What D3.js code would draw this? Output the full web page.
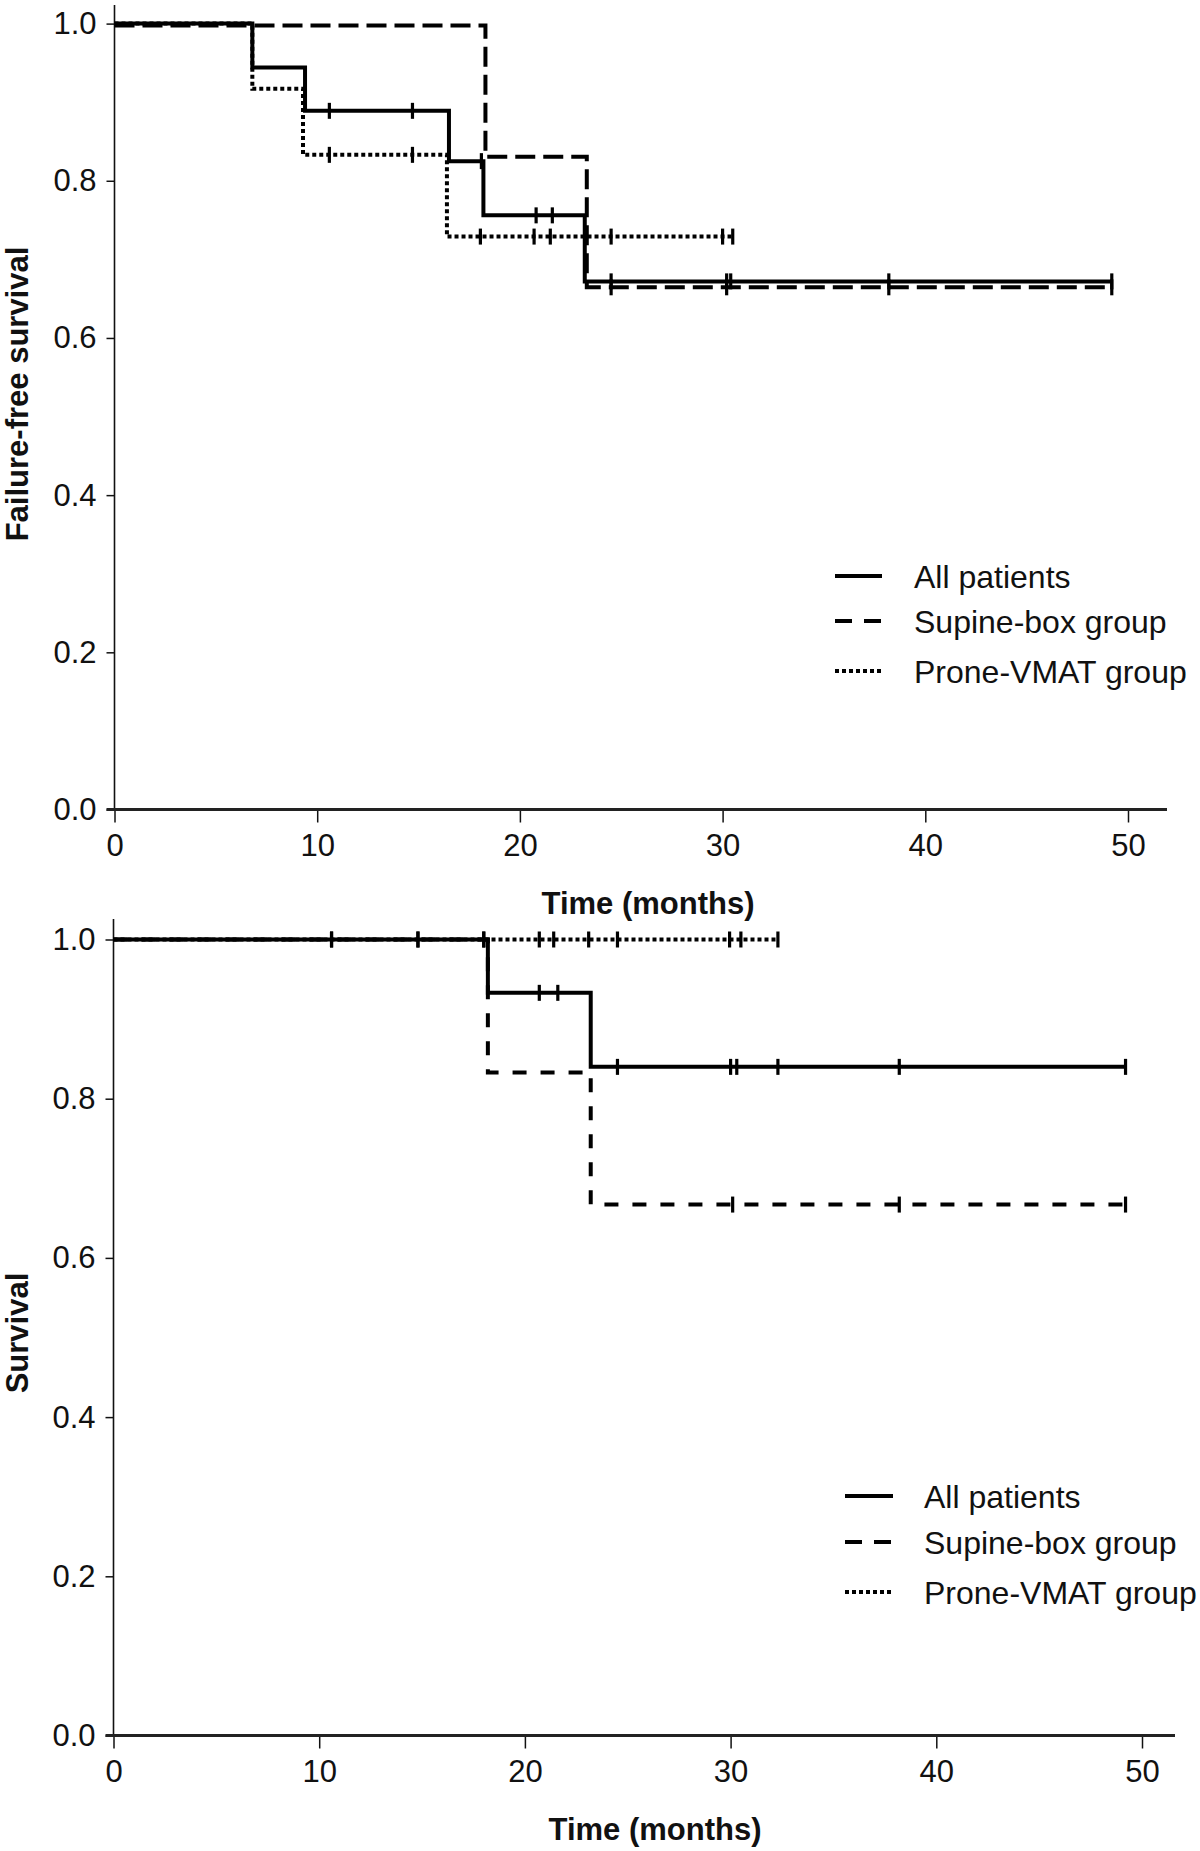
<!DOCTYPE html>
<html>
<head>
<meta charset="utf-8">
<script src="https://cdn.jsdelivr.net/npm/d3@7"></script>
<style>
  html, body { margin: 0; padding: 0; background: #fff; }
  svg { display: block; }
  text { font-family: "Liberation Sans", Arial, sans-serif; fill: #111; }
</style>
</head>
<body>
<svg id="chart" width="1200" height="1851"></svg>
<script>
// ---------- data ----------
const timeTicks = [0, 10, 20, 30, 40, 50];
const survTicks = [0, 0.2, 0.4, 0.6, 0.8, 1.0];
const legendLabels = ["All patients", "Supine-box group", "Prone-VMAT group"];

// Top panel: failure-free survival
const ffsAllTimes = [0, 6.8, 9.4, 16.5, 18.2, 23.2, 49.2];
const ffsAllSurv  = [1, 0.944, 0.889, 0.825, 0.756, 0.672, 0.672];
const ffsAllCens  = [10.6, 14.7, 18.1, 20.8, 21.6, 24.5, 30.2, 30.4, 38.2, 49.2];

const ffsSupTimes = [0, 18.3, 23.3, 49.2];
const ffsSupSurv  = [1, 0.833, 0.667, 0.667];
const ffsSupCens  = [24.5, 30.2, 38.2, 49.2];

const ffsProTimes = [0, 6.8, 9.3, 16.4, 30.5];
const ffsProSurv  = [1, 0.917, 0.833, 0.729, 0.729];
const ffsProCens  = [10.6, 14.7, 18.05, 20.7, 21.5, 24.5, 30.0, 30.5];

// Bottom panel: overall survival
const osAllTimes = [0, 18.2, 23.2, 49.2];
const osAllSurv  = [1, 0.933, 0.84, 0.84];
const osAllCens  = [10.6, 14.8, 18.0, 20.7, 21.6, 24.5, 30.0, 30.3, 32.3, 38.2, 49.2];

const osSupTimes = [0, 18.2, 23.2, 49.2];
const osSupSurv  = [1, 0.833, 0.667, 0.667];
const osSupCens  = [30.1, 38.2, 49.2];

const osProTimes = [0, 32.3];
const osProSurv  = [1, 1];
const osProCens  = [10.6, 14.8, 18.0, 20.7, 21.4, 23.1, 24.5, 29.95, 30.5, 32.3];

// ---------- drawing ----------
const svg = d3.select("#chart");
const FS = 31;
const LFS = 32;

function zip(t, s) { return t.map((d, i) => ({ t: d, s: s[i] })); }

function stepValue(times, surv, t) {
  let v = surv[0];
  for (let i = 0; i < times.length; i++) if (times[i] <= t) v = surv[i];
  return v;
}

function panel(cfg) {
  const g = svg.append("g");
  const x = d3.scaleLinear().domain([0, 50]).range(cfg.xr);
  const y = d3.scaleLinear().domain([0, 1]).range(cfg.yr);

  // y axis
  const ya = d3.axisLeft(y).tickValues(survTicks).tickFormat(d3.format(".1f"))
    .tickSize(8).tickSizeOuter(0).tickPadding(10);
  const yg = g.append("g").attr("transform", `translate(${cfg.xr[0]},0)`).call(ya);
  yg.select(".domain").remove();
  yg.selectAll("line").attr("stroke", "#111").attr("stroke-width", 1.5);
  yg.selectAll("text").style("font-size", FS + "px").attr("fill", "#111");
  g.append("line").attr("x1", cfg.xr[0]).attr("x2", cfg.xr[0])
    .attr("y1", cfg.yTop).attr("y2", cfg.yr[0]).attr("stroke", "#111").attr("stroke-width", 1.6);

  // x axis
  const xa = d3.axisBottom(x).tickValues(timeTicks).tickFormat(d3.format("d"))
    .tickSize(13).tickSizeOuter(0).tickPadding(11);
  const xg = g.append("g").attr("transform", `translate(0,${cfg.yr[0]})`).call(xa);
  xg.select(".domain").remove();
  xg.selectAll("line").attr("stroke", "#111").attr("stroke-width", 1.5);
  xg.selectAll("text").style("font-size", FS + "px").attr("fill", "#111");
  g.append("line").attr("x1", cfg.xr[0] - 8).attr("x2", cfg.xEnd)
    .attr("y1", cfg.yr[0]).attr("y2", cfg.yr[0]).attr("stroke", "#222").attr("stroke-width", 2.8);

  // titles
  g.append("text").attr("x", cfg.xTitle[0]).attr("y", cfg.xTitle[1])
    .attr("text-anchor", "middle").style("font-size", FS + "px").style("font-weight", "bold")
    .text("Time (months)");
  g.append("text").attr("transform", `translate(${cfg.yTitle[0]},${cfg.yTitle[1]}) rotate(-90)`)
    .attr("text-anchor", "middle").style("font-size", FS + "px").style("font-weight", "bold")
    .text(cfg.yLabel);

  const line = d3.line().x(d => x(d.t)).y(d => y(d.s)).curve(d3.curveStepAfter);

  // curves: dotted, dashed, solid
  cfg.series.forEach(s => {
    g.append("path").datum(zip(s.times, s.surv))
      .attr("d", line).attr("fill", "none").attr("stroke", "#000")
      .attr("stroke-width", s.w).attr("stroke-dasharray", s.dash)
      .attr("transform", `translate(0,${s.dy || 0})`);
    g.selectAll(null).data(s.cens).enter().append("line")
      .attr("x1", d => x(d)).attr("x2", d => x(d))
      .attr("y1", d => y(stepValue(s.times, s.surv, d)) + (s.dy || 0) - 8)
      .attr("y2", d => y(stepValue(s.times, s.surv, d)) + (s.dy || 0) + 8)
      .attr("stroke", "#000").attr("stroke-width", 3.2);
  });

  // legend
  const lg = g.append("g");
  legendLabels.forEach((lab, i) => {
    const yy = cfg.legY[i];
    const s = cfg.legStyles[i];
    lg.append("line").attr("x1", cfg.legX[0]).attr("x2", cfg.legX[1])
      .attr("y1", yy).attr("y2", yy).attr("stroke", "#000")
      .attr("stroke-width", s.w).attr("stroke-dasharray", s.dash);
    lg.append("text").attr("x", cfg.legX[2]).attr("y", yy).attr("dy", "0.36em")
      .style("font-size", LFS + "px").text(lab);
  });
}

panel({
  xr: [114.5, 1128], yr: [809.5, 23.6], yTop: 5, xEnd: 1167,
  xTitle: [648, 914], yTitle: [28, 394], yLabel: "Failure-free survival",
  series: [
    { times: ffsProTimes, surv: ffsProSurv, cens: ffsProCens, dash: "4,3", w: 4 },
    { times: ffsSupTimes, surv: ffsSupSurv, cens: ffsSupCens, dash: "20,8", w: 4, dy: 2 },
    { times: ffsAllTimes, surv: ffsAllSurv, cens: ffsAllCens, dash: null, w: 4 }
  ],
  legX: [835, 882, 914], legY: [576, 621, 671],
  legStyles: [{ w: 4, dash: null }, { w: 4, dash: "17,12" }, { w: 4, dash: "4,3" }]
});

panel({
  xr: [113.5, 1142], yr: [1735.5, 939.5], yTop: 919, xEnd: 1175,
  xTitle: [655, 1840], yTitle: [28, 1333], yLabel: "Survival",
  series: [
    { times: osProTimes, surv: osProSurv, cens: osProCens, dash: "4,3", w: 4 },
    { times: osSupTimes, surv: osSupSurv, cens: osSupCens, dash: "14,14", w: 4 },
    { times: osAllTimes, surv: osAllSurv, cens: osAllCens, dash: null, w: 4 }
  ],
  legX: [845, 893, 924], legY: [1496, 1542, 1592],
  legStyles: [{ w: 4, dash: null }, { w: 4, dash: "17,12" }, { w: 4, dash: "4,3" }]
});
</script>
</body>
</html>
